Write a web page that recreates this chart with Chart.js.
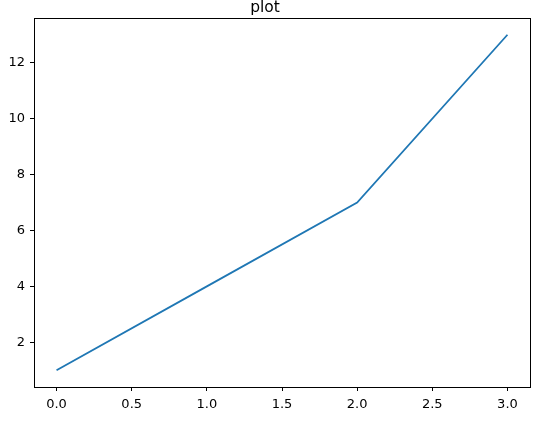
<!DOCTYPE html>
<html>
<head>
<meta charset="utf-8">
<script src="https://cdn.jsdelivr.net/npm/chart.js@4/dist/chart.umd.min.js"></script>
<style>
  html, body { margin: 0; padding: 0; background: #fff; }
  #wrap { width: 541px; height: 423px; }
</style>
</head>
<body>
<div id="wrap"><canvas id="c" width="541" height="423"></canvas></div>
<script>
const xValues = [0, 1, 2, 3];
const yValues = [1, 4, 7, 13];
const xTicks = [0, 0.5, 1, 1.5, 2, 2.5, 3];
const yTicks = [2, 4, 6, 8, 10, 12];
const titleText = 'plot';

const FONT = 'DejaVu Sans';

// full box round the plot area, like matplotlib spines
const boxPlugin = {
    id: 'frameBox',
    afterDraw(chart) {
        const { ctx, chartArea: { left, top, right, bottom } } = chart;
        ctx.save();
        ctx.strokeStyle = '#000';
        ctx.lineWidth = 1;
        ctx.strokeRect(Math.round(left) + 0.5, Math.round(top) + 0.5,
            Math.round(right - left), Math.round(bottom - top));
        ctx.restore();
    }
};

const points = xValues.map((x, i) => ({ x, y: yValues[i] }));

new Chart(document.getElementById('c'), {
    type: 'line',
    data: {
        datasets: [{
            data: points,
            borderColor: '#1f77b4',
            borderWidth: 1.8,
            pointRadius: 0,
            tension: 0,
            fill: false
        }]
    },
    plugins: [boxPlugin],
    options: {
        responsive: false,
        animation: false,
        layout: { padding: { left: 0, right: 11, top: 0, bottom: 0 } },
        scales: {
            x: {
                type: 'linear',
                min: -0.15, max: 3.15,
                afterBuildTicks: s => { s.ticks = xTicks.map(v => ({ value: v })); },
                afterFit: s => { s.height = 36; },
                grid: { display: true, drawOnChartArea: false, drawTicks: true, tickLength: 4, color: '#000', tickWidth: 1 },
                border: { display: true, color: '#000', width: 1 },
                ticks: {
                    color: '#000', padding: 6, maxRotation: 0,
                    font: { family: FONT, size: 13 },
                    callback: v => Number(v).toFixed(1)
                }
            },
            y: {
                type: 'linear',
                min: 0.4, max: 13.6,
                afterBuildTicks: s => { s.ticks = yTicks.map(v => ({ value: v })); },
                afterFit: s => { s.width = 34; },
                grid: { display: true, drawOnChartArea: false, drawTicks: true, tickLength: 4, color: '#000', tickWidth: 1 },
                border: { display: true, color: '#000', width: 1 },
                ticks: {
                    color: '#000', padding: 5,
                    font: { family: FONT, size: 13 },
                    callback: v => String(v)
                }
            }
        },
        plugins: {
            legend: { display: false },
            tooltip: { enabled: false },
            title: {
                display: true,
                text: titleText,
                color: '#000',
                font: { family: FONT, size: 15.5, weight: 'normal', lineHeight: 1.0 },
                padding: { top: 0, bottom: 2.5 }
            }
        }
    }
});
</script>
</body>
</html>
